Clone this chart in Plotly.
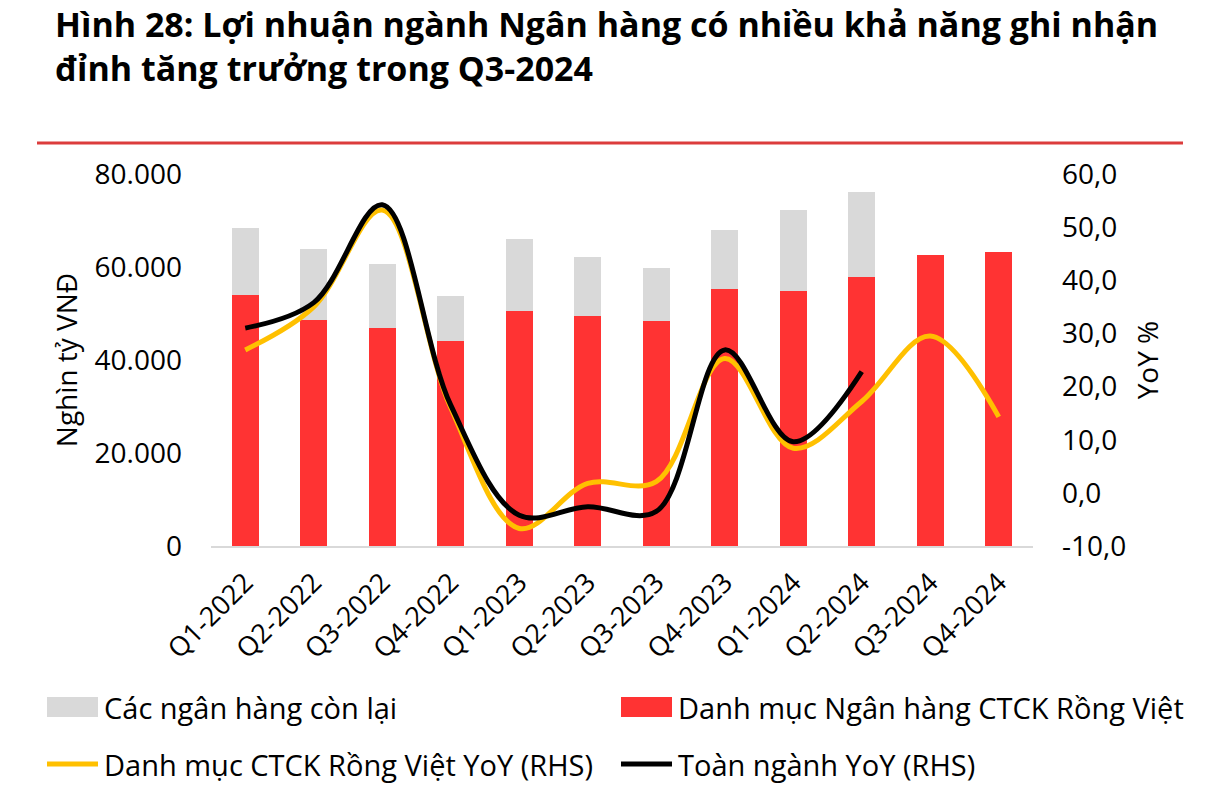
import plotly.graph_objects as go

# ---------------- data ----------------
quarters = ["Q1-2022", "Q2-2022", "Q3-2022", "Q4-2022", "Q1-2023", "Q2-2023",
            "Q3-2023", "Q4-2023", "Q1-2024", "Q2-2024", "Q3-2024", "Q4-2024"]
rong_viet_bank_profit = [54000, 48600, 46900, 44100, 50500, 49450,
                         48450, 55300, 54800, 57800, 62600, 63200]
other_bank_profit = [14400, 15300, 13700, 9700, 15500, 12700,
                     11350, 12700, 17500, 18400, None, None]
rong_viet_yoy = [26.9, 35.0, 53.2, 16.0, -6.7, 1.8, 2.1, 25.3, 8.4, 17.2, 29.5, 14.3]
industry_yoy = [31.0, 35.8, 54.2, 16.5, -4.2, -2.6, -3.5, 26.9, 9.6, 22.8, None, None]

left_ticks = [0, 20000, 40000, 60000, 80000]
right_ticks = [-10, 0, 10, 20, 30, 40, 50, 60]
right_tick_labels = ["-10,0", "0,0", "10,0", "20,0", "30,0", "40,0", "50,0", "60,0"]

name_other = "Các ngân hàng còn lại"
name_rv_bank = "Danh mục Ngân hàng CTCK Rồng Việt"
name_rv_yoy = "Danh mục CTCK Rồng Việt YoY (RHS)"
name_ind_yoy = "Toàn ngành YoY (RHS)"

title_lines = ["Hình 28: Lợi nhuận ngành Ngân hàng có nhiều khả năng ghi nhận",
               "đỉnh tăng trưởng trong Q3-2024"]

# ---------------- styling ----------------
RED = "#FF3333"
GREY = "#D9D9D9"
YELLOW = "#FFC000"
BLACK = "#000000"
FONT = "Open Sans"

W, H = 1210, 799
ML, MR, MT, MB = 211, 177, 174, 253
PW = W - ML - MR
PH = H - MT - MB


def px(x):
    return (x - ML) / PW


def py(y):
    return (H - MB - y) / PH


fig = go.Figure()
fig.add_trace(go.Bar(x=quarters, y=rong_viet_bank_profit, name=name_rv_bank,
                     marker=dict(color=RED, line=dict(width=0)), yaxis="y"))
fig.add_trace(go.Bar(x=quarters, y=other_bank_profit, name=name_other,
                     marker=dict(color=GREY, line=dict(width=0)), yaxis="y"))
fig.add_trace(go.Scatter(x=quarters, y=rong_viet_yoy, name=name_rv_yoy, mode="lines",
                         line=dict(color=YELLOW, width=5, shape="spline", smoothing=1.0),
                         yaxis="y2"))
fig.add_trace(go.Scatter(x=quarters, y=industry_yoy, name=name_ind_yoy, mode="lines",
                         line=dict(color=BLACK, width=5, shape="spline", smoothing=1.0),
                         yaxis="y2"))

fig.update_layout(
    width=W, height=H,
    margin=dict(l=ML, r=MR, t=MT, b=MB, autoexpand=False),
    paper_bgcolor="white", plot_bgcolor="white",
    barmode="stack", bargap=0.6,
    showlegend=False,
    separators=",.",
    font=dict(family=FONT, color="black", size=28),
    title=dict(text="<br>".join(title_lines), xref="container", yref="container",
               x=55 / W, xanchor="left", y=1 - 37 / H, yanchor="top",
               font=dict(family=FONT, size=34, weight="bold", color="black")),
    xaxis=dict(type="category", showline=True, linecolor="#D9D9D9", linewidth=2,
               showgrid=False, zeroline=False, ticks="", tickangle=-45,
               tickfont=dict(size=27), automargin=False, ticklabelstandoff=8),
    yaxis=dict(range=[0, 80000], tickvals=left_ticks, tickformat=",d",
               showgrid=False, zeroline=False, showline=False, ticks="",
               tickfont=dict(size=28), automargin=False, ticklabelstandoff=28,
               title=dict(text="Nghìn tỷ VNĐ", font=dict(size=28), standoff=8)),
    yaxis2=dict(range=[-10, 60], tickvals=right_ticks, ticktext=right_tick_labels,
                overlaying="y", side="right", showgrid=False, zeroline=False,
                showline=False, ticks="", tickfont=dict(size=28), automargin=False,
                ticklabelstandoff=28,
                title=dict(text="YoY %", font=dict(size=28), standoff=13)),
)

# red separator line under the title
fig.add_shape(type="line", xref="paper", yref="paper",
              x0=px(37), x1=px(1183), y0=py(143), y1=py(143),
              line=dict(color="#DC3C3C", width=3))

# manual legend (two columns, two rows)
legend_items = [
    (name_other, "rect", GREY, 47, 707),
    (name_rv_bank, "rect", RED, 621, 707),
    (name_rv_yoy, "line", YELLOW, 47, 764),
    (name_ind_yoy, "line", BLACK, 621, 764),
]
for text, kind, color, x0, yc in legend_items:
    if kind == "rect":
        fig.add_shape(type="rect", xref="paper", yref="paper",
                      x0=px(x0), x1=px(x0 + 51), y0=py(yc - 10), y1=py(yc + 10),
                      line=dict(width=0), fillcolor=color)
    else:
        fig.add_shape(type="line", xref="paper", yref="paper",
                      x0=px(x0), x1=px(x0 + 51), y0=py(yc), y1=py(yc),
                      line=dict(color=color, width=5))
    fig.add_annotation(text=text, xref="paper", yref="paper", x=px(x0 + 55), y=py(yc),
                       xanchor="left", yanchor="middle", showarrow=False,
                       font=dict(family=FONT, size=29, color="black"))

fig.write_html("out.html")
